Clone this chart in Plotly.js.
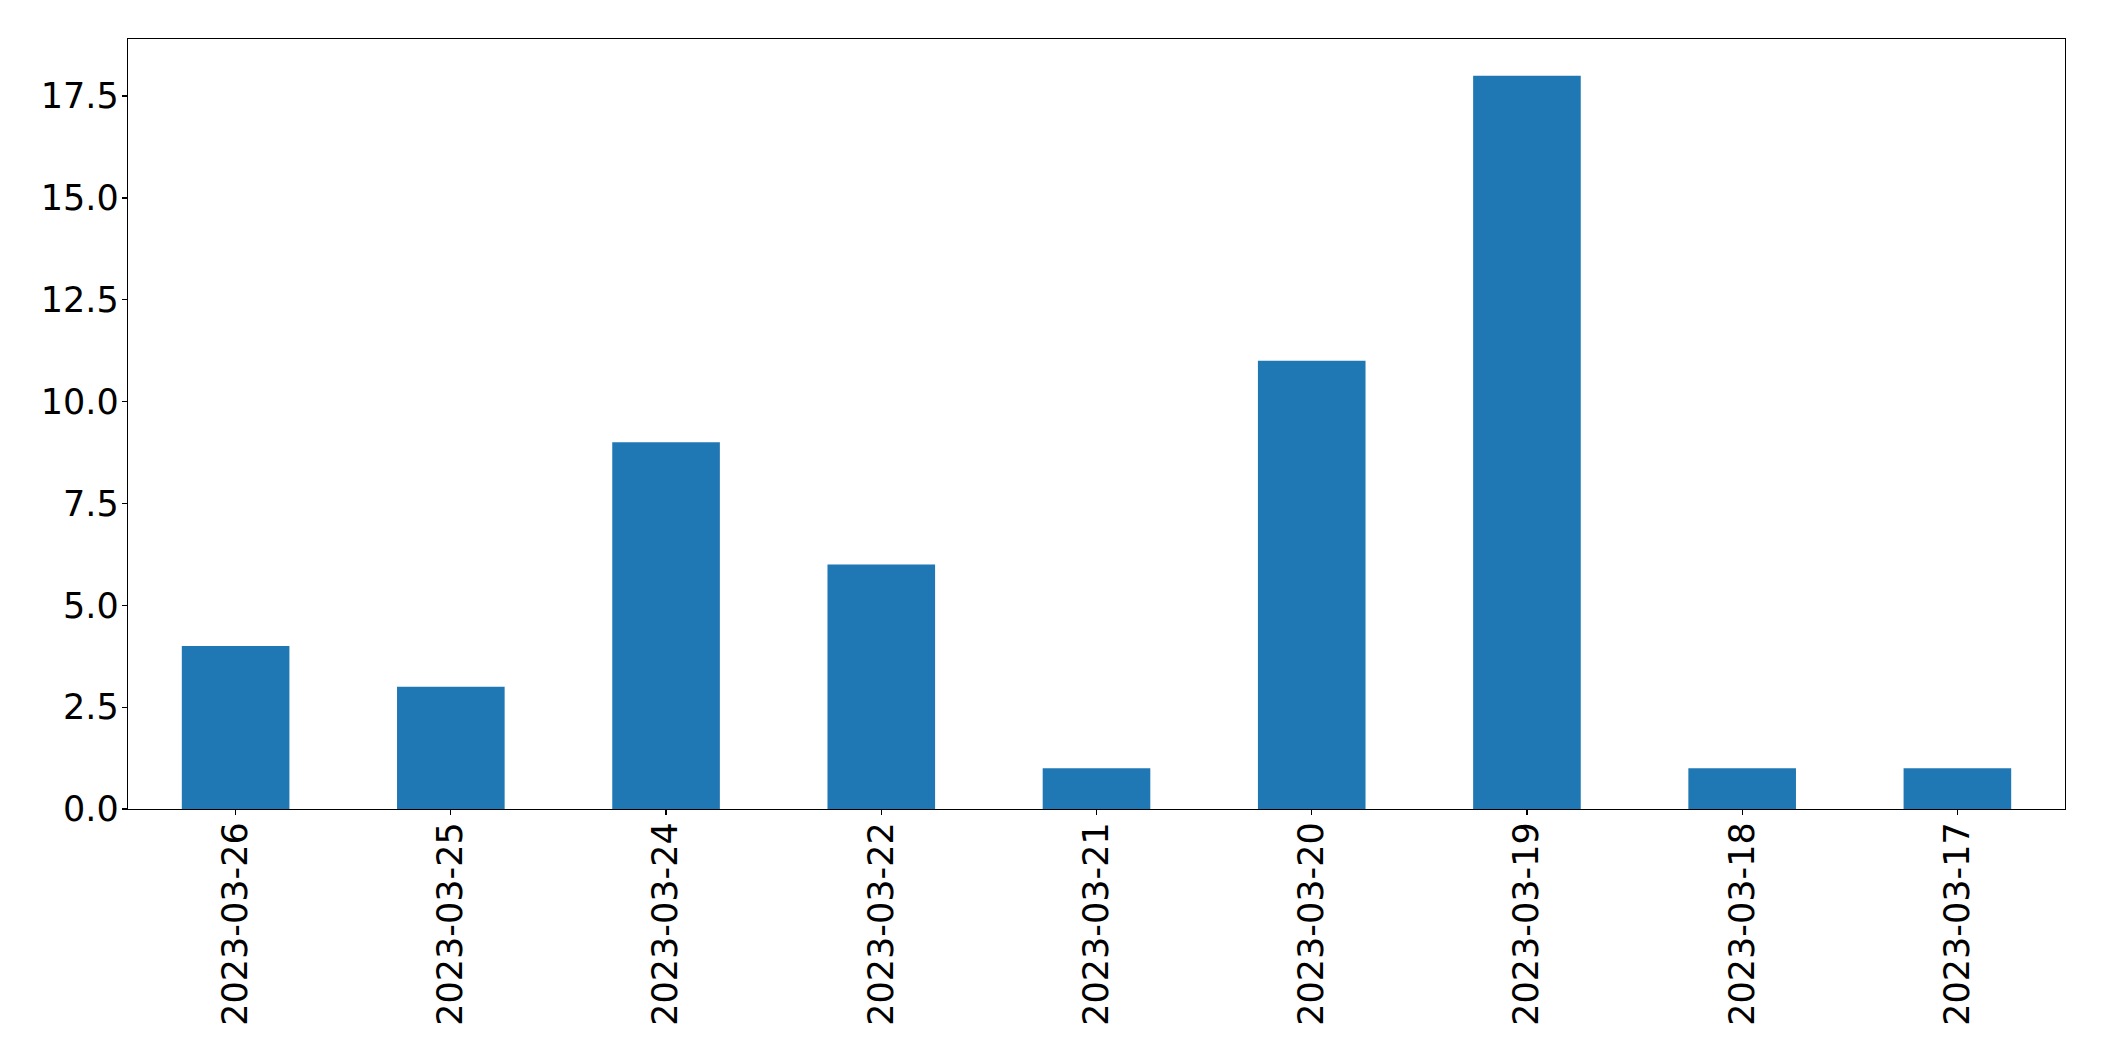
<!DOCTYPE html>
<html>
<head>
<meta charset="utf-8">
<script src="https://cdn.plot.ly/plotly-3.0.1.min.js"></script>
<style>html,body{margin:0;padding:0;background:#fff;}#chart{width:2104px;height:1061px;}</style>
</head>
<body>
<div id="chart"></div>
<script>
const categories = ["2023-03-26","2023-03-25","2023-03-24","2023-03-22","2023-03-21","2023-03-20","2023-03-19","2023-03-18","2023-03-17"];
const counts = [4, 3, 9, 6, 1, 11, 18, 1, 1];

const trace = {
  type: 'bar',
  x: categories,
  y: counts,
  width: 0.5,
  marker: {color: '#1f77b4', line: {width: 0}},
  hoverinfo: 'x+y'
};

const layout = {
  width: 2104,
  height: 1061,
  paper_bgcolor: '#ffffff',
  plot_bgcolor: '#ffffff',
  margin: {l: 127.5, r: 38.5, t: 39.3, b: 252, pad: 0},
  showlegend: false,
  font: {family: 'DejaVu Sans', color: '#000000', size: 35},
  xaxis: {
    type: 'category',
    range: [-0.5, 8.5],
    showgrid: false,
    zeroline: false,
    showline: true,
    mirror: true,
    linecolor: '#000000',
    linewidth: 1.3,
    ticks: 'outside',
    ticklen: 5,
    tickwidth: 1.3,
    tickcolor: '#000000',
    tickangle: -90,
    ticklabelstandoff: -7,
    tickfont: {family: 'DejaVu Sans', size: 35, color: '#000000'}
  },
  yaxis: {
    range: [0, 18.9],
    tickmode: 'linear',
    tick0: 0,
    dtick: 2.5,
    tickformat: '.1f',
    showgrid: false,
    zeroline: false,
    showline: true,
    mirror: true,
    linecolor: '#000000',
    linewidth: 1.3,
    ticks: 'outside',
    ticklen: 5,
    tickwidth: 1.3,
    tickcolor: '#000000',
    ticklabelstandoff: -4,
    tickfont: {family: 'DejaVu Sans', size: 35, color: '#000000'}
  },
  bargap: 0.5
};

Plotly.newPlot('chart', [trace], layout, {displayModeBar: false, staticPlot: true});
</script>
</body>
</html>
